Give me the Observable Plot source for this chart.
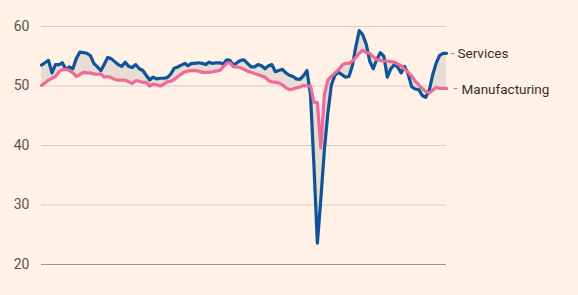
<!DOCTYPE html>
<html>
<head>
<meta charset="utf-8">
<script src="https://cdn.jsdelivr.net/npm/d3@7"></script>
<script src="https://cdn.jsdelivr.net/npm/@observablehq/plot@0.6"></script>
<style>
  html, body { margin: 0; padding: 0; background: #fff1e5; }
  #chart { width: 578px; height: 295px; }
</style>
</head>
<body>
<div id="chart"></div>
<script>
// Monthly PMI readings, first month below
const startMonth = "2013-09-01";
const services = [
  53.5, 53.9, 54.3, 52.2, 53.6, 53.6, 53.9, 52.8, 53.2, 52.9,
  54.6, 55.7, 55.6, 55.5, 55.1, 53.8, 53.2, 52.6, 53.6, 54.8,
  54.6, 54.1, 53.6, 53.3, 54.0, 53.3, 53.1, 53.6, 52.9, 52.6,
  51.8, 51.0, 51.5, 51.2, 51.3, 51.3, 51.4, 52.0, 53.0, 53.2,
  53.5, 53.8, 53.4, 53.8, 53.8, 53.9, 53.8, 53.6, 54.0, 53.8,
  53.9, 53.9, 53.7, 54.4, 54.3, 53.5, 53.9, 54.3, 54.4, 53.8,
  53.2, 53.2, 53.6, 53.4, 52.9, 53.4, 53.6, 52.4, 52.6, 52.8,
  52.2, 51.8, 51.6, 51.2, 51.1, 51.7, 52.6, 48.5, 37.0, 23.6,
  31.0, 39.3, 45.4, 50.2, 51.8, 52.3, 51.9, 51.5, 51.6, 53.5,
  56.5, 59.3, 58.6, 57.0, 54.2, 52.9, 54.5, 55.6, 55.0, 51.5,
  52.9, 53.6, 53.2, 52.2, 53.3, 52.0, 49.9, 49.5, 49.4, 48.4,
  48.1, 49.2, 51.9, 53.9, 55.1, 55.5, 55.5
];
const manufacturing = [
  50.1, 50.5, 51.0, 51.3, 51.6, 52.4, 52.7, 52.8, 52.6, 52.2,
  51.6, 51.9, 52.3, 52.2, 52.2, 52.0, 52.0, 52.0, 51.5, 51.6,
  51.4, 51.1, 51.0, 51.0, 51.0, 50.7, 50.4, 50.9, 50.8, 50.6,
  50.6, 50.0, 50.3, 50.2, 50.0, 50.3, 50.7, 50.8, 51.1, 51.6,
  52.0, 52.4, 52.5, 52.6, 52.6, 52.5, 52.3, 52.3, 52.3, 52.4,
  52.5, 52.6, 53.2, 53.8, 53.9, 53.2, 53.2, 53.1, 52.8, 52.5,
  52.3, 52.1, 51.9, 51.7, 51.5, 50.9, 50.7, 50.6, 50.5, 50.2,
  49.7, 49.4, 49.5, 49.7, 49.8, 50.1, 50.0, 50.0, 47.3, 47.2,
  39.6, 48.5, 51.0, 51.6, 52.2, 52.7, 53.5, 53.8, 53.8, 54.2,
  54.8, 55.5, 56.0, 55.6, 55.5, 54.9, 54.4, 54.3, 54.2, 54.2,
  54.1, 54.0, 53.7, 53.4, 52.8, 52.3, 51.7, 50.8, 50.2, 49.6,
  49.1, 48.8, 49.3, 49.8, 49.6, 49.6, 49.6
];
const yTicks = [20, 30, 40, 50, 60];
const seriesNames = ["Services", "Manufacturing"];

const start = new Date(startMonth);
const rows = services.map((s, i) => ({
  date: d3.utcMonth.offset(start, i),
  svc: s,
  mfg: manufacturing[i]
}));
const last = rows[rows.length - 1];
const labels = [
  {date: last.date, value: last.svc, name: seriesNames[0]},
  {date: last.date, value: last.mfg, name: seriesNames[1]}
];

const FONT = "Roboto, 'Noto Sans', sans-serif";

const chart = Plot.plot({
  width: 578,
  height: 295,
  marginLeft: 41,
  marginRight: 132,
  marginTop: 26,
  marginBottom: 31,
  style: {background: "#fff1e5", fontFamily: FONT, overflow: "visible"},
  x: {type: "utc", domain: [rows[0].date, last.date], axis: null},
  y: {domain: [20, 60], axis: null},
  marks: [
    Plot.ruleY(yTicks.filter(d => d !== 20), {stroke: "#d8ccc2", strokeWidth: 1}),
    Plot.ruleY([20], {stroke: "#9c938c", strokeWidth: 1}),
    Plot.axisY({
      ticks: yTicks, tickSize: 0, tickPadding: 12, fontSize: 14,
      fill: "#5a5550", label: null, tickFormat: d => String(d)
    }),
    Plot.areaY(rows, {x: "date", y1: "mfg", y2: "svc", fill: "#e7ddd5"}),
    Plot.line(rows, {x: "date", y: "svc", stroke: "#0f5499", strokeWidth: 3.2}),
    Plot.line(rows, {x: "date", y: "mfg", stroke: "#ee6a98", strokeWidth: 3.2}),
    Plot.text([labels[0]], {x: "date", y: "value", text: () => "-", dx: 4, fill: "#9c938c", fontSize: 14, textAnchor: "start"}),
    Plot.text([labels[1]], {x: "date", y: "value", text: () => "-", dx: 7, fill: "#9c938c", fontSize: 14, textAnchor: "start"}),
    Plot.text([labels[0]], {x: "date", y: "value", text: "name", dx: 11, fill: "#33302e", fontSize: 13.5, textAnchor: "start"}),
    Plot.text([labels[1]], {x: "date", y: "value", text: "name", dx: 15, dy: 1, fill: "#33302e", fontSize: 13.5, textAnchor: "start"})
  ]
});
document.getElementById("chart").appendChild(chart);
</script>
</body>
</html>
